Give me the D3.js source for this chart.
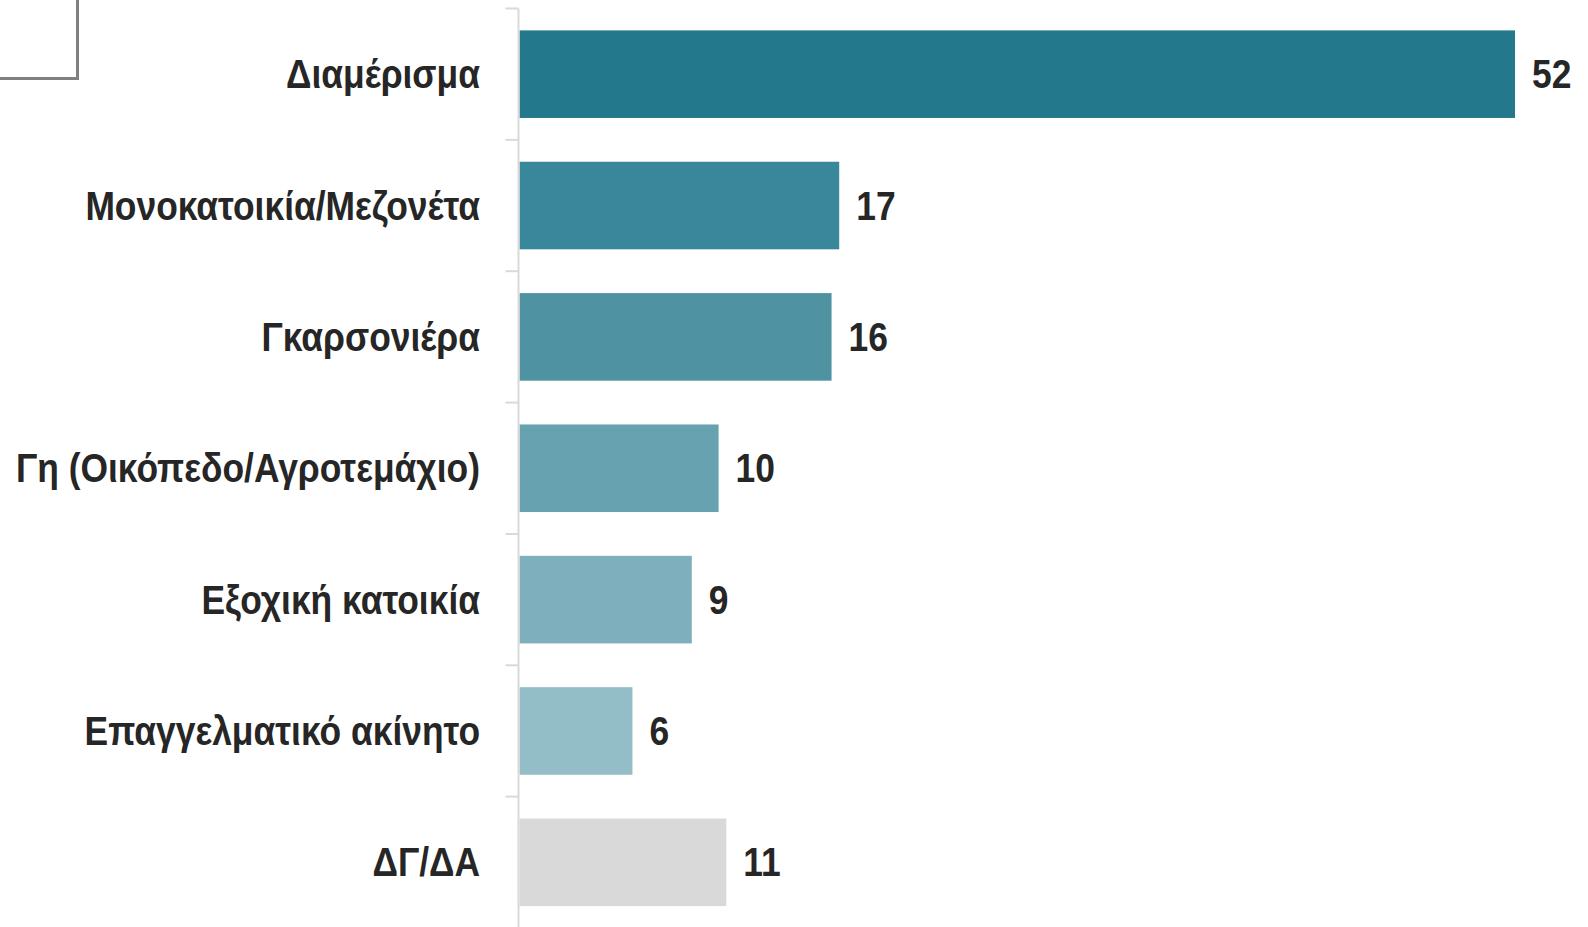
<!DOCTYPE html>
<html>
<head>
<meta charset="utf-8">
<script src="https://cdn.jsdelivr.net/npm/d3@7"></script>
<style>
  html, body { margin: 0; padding: 0; background: #fff; }
  svg { display: block; }
  .lbl { font-family: "Liberation Sans", Arial, sans-serif; font-weight: bold; fill: #262626; }
</style>
</head>
<body>
<div id="chart"></div>
<script>
const categories = ['Διαμέρισμα', 'Μονοκατοικία/Μεζονέτα', 'Γκαρσονιέρα', 'Γη (Οικόπεδο/Αγροτεμάχιο)', 'Εξοχική κατοικία', 'Επαγγελματικό ακίνητο', 'ΔΓ/ΔΑ'];
const values = [52, 16.7, 16.3, 10.4, 9.0, 5.9, 10.8];
const palette = ['#23798b', '#38879a', '#4f92a2', '#66a2b0', '#7eafbc', '#93bdc7', '#d9d9d9'];

const width = 1588, height = 927;
const axisX = 518.5;
const narrow = 0.885; // no narrow font installed, squeeze the sans instead

const svg = d3.select('#chart').append('svg')
  .attr('width', width)
  .attr('height', height);

// leftover frame in the corner
svg.append('rect')
  .attr('x', -10).attr('y', -10)
  .attr('width', 87.5).attr('height', 88.5)
  .attr('fill', 'none')
  .attr('stroke', '#808080')
  .attr('stroke-width', 3);

const y = d3.scaleBand().domain(categories).range([8.5, 928]).padding(0);
const x = d3.scaleLinear().domain([0, 52]).range([axisX + 1, 1515]);

const step = y.bandwidth();
const barH = step * 2 / 3;

// bars
svg.selectAll('.bar')
  .data(values)
  .enter()
  .append('rect')
  .attr('class', 'bar')
  .attr('x', x(0))
  .attr('y', (d, i) => y(categories[i]) + (step - barH) / 2)
  .attr('width', d => x(d) - x(0))
  .attr('height', barH)
  .attr('fill', (d, i) => palette[i]);

// axis line + ticks at band boundaries
svg.append('line')
  .attr('x1', axisX).attr('x2', axisX)
  .attr('y1', y.range()[0]).attr('y2', height)
  .attr('stroke', '#d9d9d9').attr('stroke-width', 2);

svg.selectAll('.tick')
  .data(categories)
  .enter()
  .append('line')
  .attr('class', 'tick')
  .attr('x1', axisX - 13).attr('x2', axisX)
  .attr('y1', d => y(d)).attr('y2', d => y(d))
  .attr('stroke', '#d9d9d9').attr('stroke-width', 2);

// category labels
svg.selectAll('.cat')
  .data(categories)
  .enter()
  .append('text')
  .attr('class', 'lbl cat')
  .attr('transform', d => `translate(480,${y(d) + step / 2}) scale(${narrow},1)`)
  .attr('dy', '0.35em')
  .attr('text-anchor', 'end')
  .style('font-size', '40px')
  .text(d => d);

// value labels
svg.selectAll('.val')
  .data(values)
  .enter()
  .append('text')
  .attr('class', 'lbl val')
  .attr('transform', (d, i) => `translate(${x(d) + 17},${y(categories[i]) + step / 2}) scale(${narrow},1)`)
  .attr('dy', '0.35em')
  .style('font-size', '40px')
  .text(d => Math.round(d));
</script>
</body>
</html>
